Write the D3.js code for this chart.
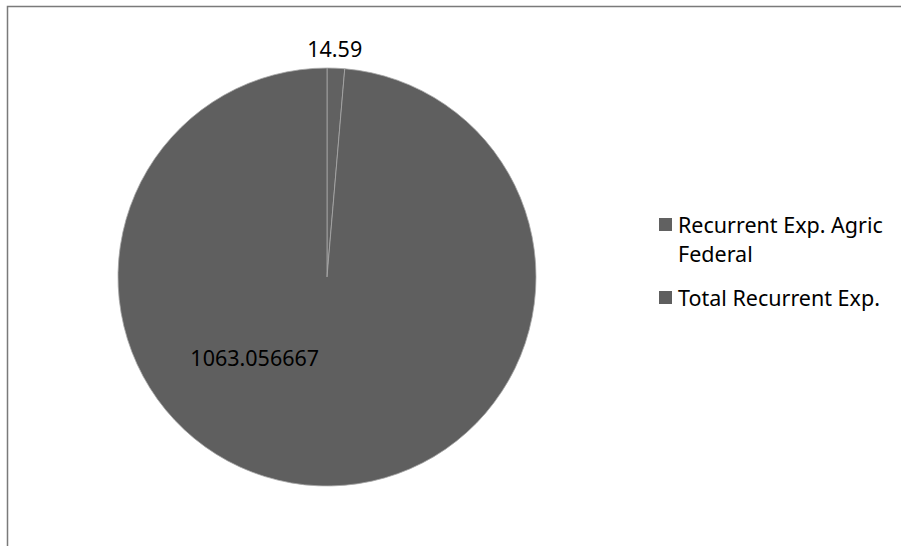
<!DOCTYPE html>
<html><head><meta charset="utf-8">
<script src="https://cdn.jsdelivr.net/npm/d3@7"></script>
<style>html,body{margin:0;padding:0;background:#fff;}svg{display:block;}</style>
</head><body>
<svg id="c" width="901" height="546"></svg>
<script>
const categories = ["Recurrent Exp. Agric Federal", "Total Recurrent Exp."];
const values = [14.59, 1063.056667];
const valueLabels = ["14.59", "1063.056667"];
const legendLines = [["Recurrent Exp. Agric", "Federal"], ["Total Recurrent Exp."]];

const W = 901, H = 546;
const svg = d3.select("#c");
const font = "'Noto Sans', 'Open Sans', sans-serif";

// frame
svg.append("rect").attr("x", 7.5).attr("y", 6.5).attr("width", 1000).attr("height", 1000)
  .attr("fill", "none").attr("stroke", "#7a7a7a").attr("stroke-width", 1.5);

const cx = 327, cy = 277, R = 209;
const color = d3.scaleOrdinal().domain(categories).range(["#616161", "#5f5f5f"]);
const pie = d3.pie().sort(null).value(d => d.v);
const arcs = pie(categories.map((c, i) => ({c, v: values[i], label: valueLabels[i]})));
const arc = d3.arc().innerRadius(0).outerRadius(R);

const g = svg.append("g").attr("transform", `translate(${cx},${cy})`);
g.selectAll("path").data(arcs).join("path")
  .attr("d", arc)
  .attr("fill", d => color(d.data.c))
  .attr("stroke", "#a8a8a8").attr("stroke-width", 0.8);

// labels
const labelPos = [
  d => { const a = (d.startAngle + d.endAngle) / 2; return [Math.sin(a) * 229 - 2, -Math.cos(a) * 229]; },
  d => { const a = (222) * Math.PI / 180; return [Math.sin(a) * 108, -Math.cos(a) * 108]; }
];
g.selectAll("text.lbl").data(arcs).join("text")
  .attr("class", "lbl")
  .attr("x", (d, i) => labelPos[i](d)[0])
  .attr("y", (d, i) => labelPos[i](d)[1])
  .attr("text-anchor", "middle").attr("dominant-baseline", "central")
  .attr("font-family", font).attr("font-size", 21.5).attr("fill", "#000")
  .text(d => d.data.label);

// legend
const lx = 659, ly = [224, 297], lh = 29;
const lg = svg.append("g");
categories.forEach((c, i) => {
  lg.append("rect").attr("x", lx).attr("y", ly[i] - 6).attr("width", 13).attr("height", 13)
    .attr("fill", color(c));
  const t = lg.append("text").attr("font-family", font).attr("font-size", 21.5).attr("fill", "#000");
  legendLines[i].forEach((line, j) => {
    t.append("tspan").attr("x", lx + 19).attr("y", ly[i] + j * lh).attr("dominant-baseline", "central").text(line);
  });
});
</script>
</body></html>
